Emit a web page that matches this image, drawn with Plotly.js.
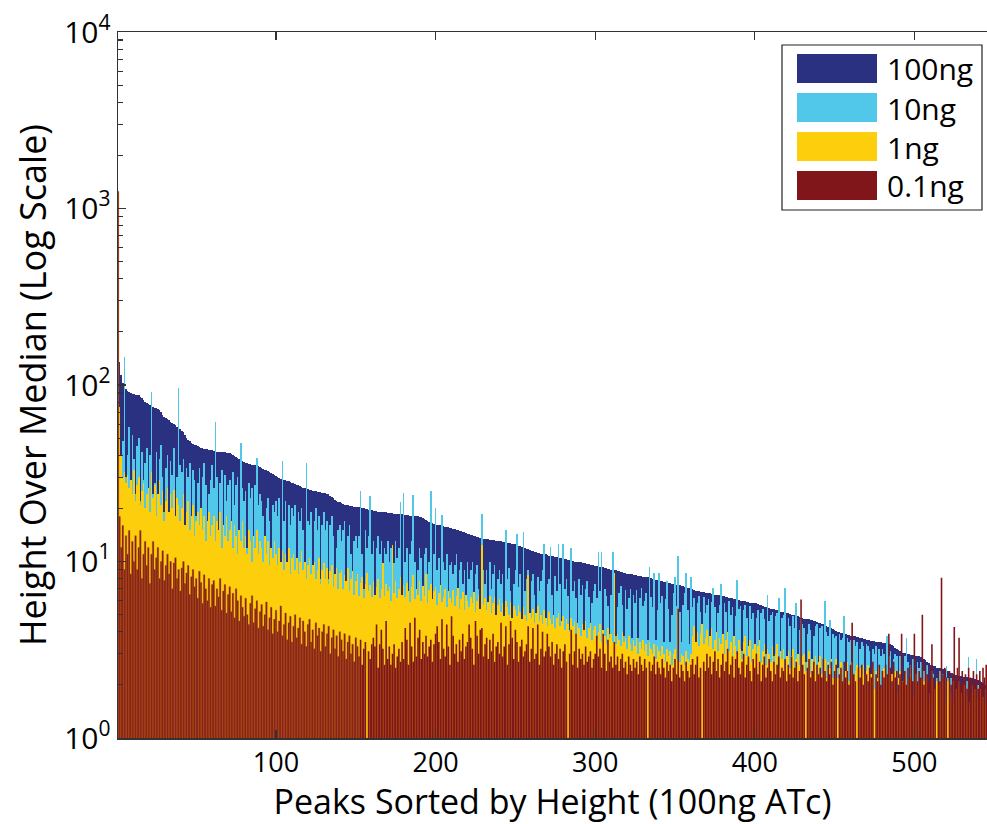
<!DOCTYPE html>
<html>
<head>
<meta charset="utf-8">
<script src="https://cdn.plot.ly/plotly-3.0.1.min.js"></script>
<style>html,body{margin:0;padding:0;background:#fff;overflow:hidden}#chart{width:987px;height:824px}</style>
</head>
<body>
<div id="chart"></div>
<script>
// Series names (legend order)
const seriesNames = ["100ng", "10ng", "1ng", "0.1ng"];
// X tick values
const xTickVals = [100, 200, 300, 400, 500];
// Y tick values and labels (log scale)
const yTickVals = [1, 10, 100, 1000, 10000];
const yTickText = ["10<sup>0</sup>", "10<sup>1</sup>", "10<sup>2</sup>", "10<sup>3</sup>", "10<sup>4</sup>"];

// Height over median, 100ng ATc (sorting key)
const h100ng = [
160,135,114,103,97,95,93,91,90,89,
88.5,88,88,87.5,86,84,82,80,79,78,
77,76,75,74.5,74,73,72,70,68,66,
65,64,63,62,61,60,59,58,57,56,
55,54,52,50,49,48,47,46.5,46,45.5,
45,44.5,44,43.8,43.6,43.4,43.2,43,42.8,42.6,
42.4,42.2,42,41.9,41.8,41.7,41.6,41.5,41.4,41.2,
41,40.5,40,39.5,39,38.5,38,37.5,37,36.6,
36.3,36,35.8,35.6,35.4,35.2,35,34.8,34.6,34.3,
34,33.6,33.2,32.8,32.4,32,31.6,31.2,30.8,30.4,
30.1,29.8,29.5,29.2,29,28.8,28.6,28.4,28.2,28,
27.8,27.5,27.2,27,26.7,26.4,26.2,26,25.8,25.6,
25.4,25.3,25.2,25.1,25,24.9,24.8,24.7,24.6,24.5,
24.4,24.2,24,23.6,23.2,22.8,22.4,22,21.8,21.6,
21.4,21.2,21,20.9,20.8,20.7,20.6,20.5,20.4,20.4,
20.3,20.3,20.2,20.1,20,19.9,19.8,19.7,19.6,19.5,
19.4,19.3,19.3,19.2,19.2,19.1,19.1,19,19,18.9,
18.9,18.8,18.8,18.7,18.7,18.6,18.6,18.5,18.5,18.4,
18.4,18.3,18.3,18.2,18.2,18.1,18.1,18,18,17.9,
17.8,17.6,17.4,17.2,17,16.8,16.6,16.5,16.4,16.3,
16.2,16.1,16,15.9,15.8,15.7,15.6,15.6,15.5,15.4,
15.3,15.2,15.1,15,14.9,14.8,14.7,14.6,14.5,14.4,
14.3,14.2,14.1,14,13.9,13.8,13.7,13.6,13.6,13.5,
13.5,13.4,13.4,13.3,13.3,13.2,13.2,13.1,13.1,13,
13,12.9,12.9,12.8,12.8,12.7,12.7,12.6,12.6,12.5,
12.4,12.3,12.2,12.1,12,11.9,11.8,11.7,11.6,11.5,
11.4,11.3,11.3,11.2,11.2,11.1,11.1,11,11,10.9,
10.8,10.8,10.7,10.7,10.6,10.6,10.5,10.5,10.4,10.4,
10.3,10.3,10.2,10.2,10.1,10.1,10,10,9.95,9.9,
9.9,9.85,9.8,9.75,9.7,9.65,9.6,9.55,9.5,9.45,
9.4,9.35,9.3,9.3,9.25,9.2,9.15,9.1,9.05,9.0,
9.0,8.95,8.9,8.85,8.8,8.75,8.7,8.65,8.6,8.55,
8.5,8.5,8.45,8.4,8.4,8.35,8.3,8.3,8.25,8.2,
8.2,8.2,8.15,8.1,8.05,8.0,7.95,7.9,7.85,7.8,
7.8,7.75,7.7,7.65,7.6,7.6,7.55,7.5,7.5,7.45,
7.4,7.4,7.35,7.3,7.25,7.2,7.15,7.1,7.05,7.0,
6.95,6.9,6.85,6.8,6.8,6.75,6.7,6.7,6.65,6.6,
6.6,6.6,6.55,6.55,6.5,6.5,6.45,6.45,6.4,6.4,
6.35,6.3,6.3,6.25,6.2,6.2,6.15,6.1,6.1,6.05,
6.0,6.0,5.95,5.95,5.9,5.9,5.85,5.85,5.8,5.8,
5.8,5.75,5.7,5.65,5.6,5.55,5.5,5.5,5.45,5.4,
5.4,5.35,5.3,5.3,5.25,5.2,5.2,5.15,5.1,5.1,
5.1,5.05,5.0,5.0,4.95,4.9,4.9,4.85,4.8,4.8,
4.75,4.75,4.7,4.7,4.65,4.65,4.6,4.6,4.55,4.5,
4.5,4.45,4.4,4.35,4.3,4.25,4.2,4.2,4.15,4.1,
4.05,4.0,4.0,3.95,3.95,3.9,3.9,3.85,3.85,3.8,
3.8,3.8,3.8,3.75,3.75,3.7,3.7,3.65,3.65,3.6,
3.6,3.6,3.55,3.55,3.55,3.5,3.5,3.5,3.5,3.45,
3.45,3.45,3.45,3.4,3.4,3.35,3.3,3.25,3.2,3.15,
3.1,3.1,3.05,3.05,3.0,3.0,3.0,2.95,2.95,2.95,
2.9,2.9,2.9,2.88,2.85,2.8,2.75,2.7,2.65,2.6,
2.6,2.55,2.55,2.5,2.5,2.5,2.45,2.45,2.45,2.43,
2.4,2.38,2.35,2.33,2.3,2.28,2.27,2.26,2.25,2.24,
2.23,2.22,2.21,2.2,2.2,2.19,2.18,2.17,2.15,2.13,
2.1,2.08,2.05,2.02,2.0
];

// Height over median, 10ng ATc
const h10ng = [
150,60,33,48,145,30,40,58,26,52,
38,24,45,50,22,42,29,36,44,21,
40,91,24,28,42,20,38,46,30,19,
34,40,18,37,31,44,17,30,96,35,
32,38,16,34,30,36,15,33,29,18,
28,34,15,30,36,27,14,24,29,35,
26,62,30,14,28,33,13,31,22,27,
29,13,32,21,27,30,12,47,26,22,
25,12,28,23,26,11,27,38.5,21,24,
22,18,11,20,23,17,10.5,21,19,22,
18,23,10,37,17,22,9.5,21,16,20,
18,21,9,19,17,20,15,9,36,17,
16,19,8.5,17,20,15,18,8,16,19,
15,17,8,16,18,14,7.5,12,15,16,
13,15,17,7.5,14,16,11,7,13,14,
12,14,25,11,7,15,12,14,23.5,11,
13,6.5,12,14,11,13,6.5,12,11,13,
10,12,6.2,9.8,13,10.5,12,21.7,6,24.5,
10,12,6,11,13,23.8,10,6,9,12,
10.5,5.8,11,12,8.5,10,25,5.6,11,20,
9,10.5,5.5,18.3,10,9,11,5.4,9.5,10,
8.5,9.5,11,5.2,9,10,7.5,9,5.2,10,
8,9,10,5,8.5,9.5,7,5,18.6,9,
7.5,9,5,10,7,8.5,9.5,4.8,8,9,
7.5,8.5,4.7,15,8,9.2,6.8,4.6,7.5,9,
14.3,7.2,8.5,4.5,14.7,6.8,8,9,4.4,7.8,
8.5,6.5,4.4,8.2,6.8,7.8,9,12.6,4.3,7.5,
8,12.1,6.5,4.3,8.3,6.8,12.6,7.5,4.2,12.6,
7,8,6.4,4.1,11.9,6.8,7.8,6.2,4.1,8,
6.5,7.4,4,7,7.8,6.3,4,5.8,6.8,7.5,
6.2,11.3,6.8,11.3,3.9,7,6.4,5.6,3.9,6.5,
11.3,6,3.8,5.5,6.6,7.3,5.7,3.8,6.9,5.4,
6.2,7,3.7,6.5,5.8,6.9,3.7,6.2,7.1,5.6,
6,6.6,3.6,9.3,6.3,5.5,8.6,3.6,5.3,8.6,
5.8,6.4,3.5,6.1,7.8,5.4,3.5,5,6.6,8.2,
5.6,10.7,5.2,3.5,5.7,6.6,8.6,5.3,3.4,8.2,
5.5,6.2,3.4,5.8,6.4,5.2,3.3,6.3,5.1,5.7,
6.1,3.3,5.9,7.1,5.5,3.3,5.1,5.7,7.5,3.2,
5.8,5.2,3.2,6,5,5.5,3.2,4.9,7.9,5.4,
5.6,3.1,5.3,5.7,4.8,3.1,5.6,4.7,5.1,3.1,
4.8,5.3,3,5.1,5.4,4.7,3,6.5,4.6,5,
5.2,2.9,4.9,5.1,6.2,2.9,4.8,5,7.1,2.9,
4.8,4.3,2.8,4.9,4.2,5.8,2.8,4.1,4.7,4.4,
4.2,2.7,3.9,4.4,4.1,2.7,3.8,4.3,4.4,2.6,
4.2,4.3,2.6,6,4,3.8,4.65,2.5,3.9,3.7,
3.8,2.5,3.9,3.6,3.7,4.9,2.4,3.7,3.5,3.6,
2.4,3.6,3.3,3.5,2.3,3.2,3.5,3.3,2.3,3.4,
3.3,3.1,2.2,3.2,3,3.3,2.2,3.2,2.9,3.2,
3,2.1,3.8,2.9,3.1,2.1,2.8,3,2.9,2,
2.9,2.8,2,2.9,3.7,2.7,2,2.6,2.8,2.7,
1.9,2.7,2.5,2.7,1.9,2.4,2.5,2.6,1.8,2.4,
2.4,2.3,1.8,2.2,2.3,2.4,1.7,2.3,2.2,2.56,
2.2,1.7,2.2,2,2.1,1.7,1.9,2.1,2,1.6,
1.9,2,2.1,2.87,1.6,2,2.1,1.8,2.8,2,
1.9,2,1.6,1.9,1.9
];

// Height over median, 1ng ATc
const h1ng = [
1250,75,40,30,32,28,31,26,29,24,
33,22,27,30,21,25,28,20,24,26,
19,32,23,27,18,24,29,21,25,17,
22,26,19,24,20,25.4,18,23,21,17,
20,24,16,19,22,15,18,21,14,17,
19,16,20,15,18,13,17,19,14,16,
18,13,17,15,19,12,16,14,18,13,
15,17,12,16,14,11,15,13,17,12,
14,11,15,13,10,14,12,15,11,13,
12,10,14,11,13,9.5,12,10.5,13,11,
9.5,12,10,11.5,9,11,10,12,8.5,10.5,
11,9,10.5,8.5,10,11.5,9,10,8,9.5,
10.5,8.5,9.5,10,8,9,10.5,7.5,9,9.8,
8,9.2,7.5,8.8,9.6,7.2,8.5,9.2,7,8.6,
9,7,8.4,7.8,9.2,6.8,8,8.8,6.5,7.8,
8.5,6.4,7.6,8.2,6.2,7.5,8.6,6.8,7.4,6.3,
7.8,6.5,7.2,8,6.2,7,9.8,6.4,7.5,6.8,
7.2,6,12.4,6.6,7.8,6.2,7,8.2,6.5,7.4,
6.3,7.6,6.8,5.9,7.2,8.4,6.1,7,6.5,7.8,
6,7.3,6.4,8.5,5.8,6.9,7.5,6.1,6.8,7.2,
5.7,6.6,7.4,5.9,6.3,7,5.5,6.8,6.2,5.8,
6.9,5.6,6.4,7.1,5.4,6.1,6.7,5.3,6.5,6,
5.5,6.3,5.8,6.7,5.2,6,6.5,5.4,12.4,5.7,
6.2,5.3,5.9,6.4,5.1,5.8,6.3,5,5.7,6.1,
5.2,5.8,4.9,6,5.5,5,5.9,4.8,5.6,5.3,
4.9,5.7,5.2,4.7,5.5,5,4.6,8.4,5.1,4.8,
5.4,4.5,5.1,5.6,4.6,5,4.4,5.3,4.8,4.3,
5.2,4.7,4.4,5,4.2,4.8,5.1,4.3,4.6,4.9,
4.1,4.7,4.4,4,4.8,4.3,4.6,3.9,4.5,4.2,
3.8,4.4,4.1,4.6,3.7,4.2,4.5,3.6,4.1,4.3,
3.6,4,4.4,3.5,4.1,3.8,3.4,4.2,3.7,3.9,
3.5,8.6,3.4,3.9,3.6,3.3,4,3.5,3.7,3.2,
3.8,3.4,3.1,3.6,3.3,3.7,3,3.5,3.2,3.6,
3.1,3.4,2.9,3.5,3.2,3,3.4,2.8,3.3,3.1,
2.9,3.3,3,2.7,3.2,2.9,3.1,2.6,3,3.2,
2.8,5.4,2.7,3,2.9,2.6,3.1,2.8,2.7,3,
3.8,4.3,3.5,4,3.3,3.9,4.4,3.4,3.7,4.1,
3.3,3.8,4.2,3.2,3.6,4,3.1,3.7,3.4,3.9,
3,3.6,4,3.1,3.5,2.9,3.8,3.3,3,3.6,
3.2,2.8,3.5,3.8,2.9,3.3,3.6,2.7,3.2,3.4,
2.8,3.3,3.6,2.7,3.1,3.4,2.6,3.2,3,2.7,
3.3,2.6,3,3.4,2.5,3.1,2.8,3.2,2.5,2.9,
3.1,2.5,2.9,3.2,2.4,2.8,3,2.6,2.4,2.9,
3,2.4,2.7,3.1,2.3,2.8,2.6,2.9,2.3,2.7,
2.9,2.3,2.6,2.8,2.2,2.7,2.5,2.8,2.2,2.6,
2.8,2.2,2.5,2.7,2.1,2.6,2.4,2.7,2.1,2.5,
2.7,2.1,2.4,2.6,2,2.5,2.3,2.6,2,2.4,
2.6,2,2.3,2.5,1.9,2.4,2.2,2.5,1.9,2.3,
2.5,1.9,2.2,2.4,1.8,2.3,2.1,2.4,1.8,2.2,
2.4,1.8,2.1,2.3,1.8,2.2,2,2.3,1.7,2.1,
2.3,1.7,2,2.2,1.7,2.1,1.9,2.2,1.7,2,
2.2,1.7,1.9,2.1,1.6,2,1.8,2.1,1.6,1.9,
2.1,1.6,1.8,2,1.6,1.9,1.7,2,1.5,1.8,
2,1.5,1.7,1.9,1.5,1.8,1.6,1.9,1.5,1.7,
1.9,1.5,1.7,1.8,1.6
];

// Height over median, 0.1ng ATc
const h01ng = [
1250,18,12,16,9,14,11,15,8.5,13,
10,14,9,12,15,8,11,13,9.5,12,
7.5,11,13,9,10.5,12,8,10,11.5,7.8,
9.5,11,8.5,10,7,9.8,10.5,8,9,6.8,
9.2,10,7.5,8.6,9.5,6.5,8.2,9,7.2,8,
6.2,8.8,7.6,5.8,8.4,7,6,8,5.5,7.4,
7.8,5.6,7,6.3,8,5.3,6.8,7.4,5.1,6.5,
7.2,5.2,6.6,4.8,7,6,4.6,6.4,5.5,4.9,
6.2,5,4.4,5.8,6.4,4.5,5.4,6,4.2,5.2,
5.7,4.3,5,5.9,4.1,4.8,5.5,3.9,4.7,5.3,
4,4.6,5.6,3.8,4.4,5.1,3.6,4.5,4.9,3.5,
4.3,5,3.7,4.2,4.8,3.4,4.6,4,3.3,4.4,
4.7,3.5,4.1,3.2,4.5,3.8,4.2,3.1,4,4.4,
3.3,3.9,4.3,3,3.7,4.1,3.2,3.8,2.9,4,
3.6,3.1,3.9,2.8,3.5,3.8,3,3.4,2.7,3.7,
3.3,2.9,3.6,2.6,3.2,3.5,0.9,3.1,2.8,3.4,
3.7,3.3,4.4,2.5,3.4,4.1,3.2,2.6,4.6,2.8,
3.3,2.6,3,3.4,2.5,2.9,3.2,2.7,3.5,2.8,
4.2,3.6,2.6,4.5,3.3,2.7,4.8,2.9,3.7,4.1,
2.8,3.5,3,3.8,2.9,3.3,3.6,2.7,3.4,3.9,
4.3,3.5,2.8,4.7,3.2,2.9,4.4,3.3,2.6,4.9,
3.8,3,3.4,2.7,3.6,3.1,3.9,2.8,3.3,3.5,
4.4,3.7,3.2,2.6,4.6,3.8,3,4.1,4.2,2.9,
3.4,3.7,2.8,3.6,3.1,3.9,2.7,3.3,3.5,3,
4.5,2.9,3.3,4.3,2.6,3.4,4.6,3.7,2.8,4.1,
3.5,2.7,3.3,3.6,2.9,3.1,3.4,4.3,2.7,3.2,
4.2,2.8,3,4.4,2.6,3.2,4.0,2.9,3.1,3.9,
3.3,2.9,3.5,2.6,3,3.4,2.8,3.2,2.5,3.1,
3.4,2.7,0.95,3,4.1,2.6,3.1,3.9,2.5,3.2,
2.8,3,2.6,3.3,2.7,2.9,3.1,2.5,2.8,3,
3.8,2.9,3.2,2.5,3.9,3,2.4,3.6,2.7,2.9,
2.5,3.5,2.6,2.9,2.4,2.8,3,2.5,2.7,2.3,
2.9,2.6,2.4,2.8,2.5,2.7,2.3,2.9,2.6,2.4,
2.8,2.5,0.9,2.7,2.4,2.6,2.9,2.3,2.7,2.5,
2.3,2.8,2.5,2.2,2.7,2.4,2.6,2.1,2.5,2.8,
2.3,5.4,2.2,2.6,2.4,2.1,2.7,2.4,2.2,2.6,
2.8,2.3,2.6,2.9,2.2,2.5,0.9,2.7,2.4,3,
2.5,2.9,2.3,2.7,3.1,2.4,2.8,2.2,2.6,3,
2.4,2.7,3.2,2.3,2.6,2.9,2.2,2.8,3.1,2.5,
2.3,2.7,3,2.2,2.6,2.9,2.4,2.1,2.8,2.5,
3,2.3,2.7,2.1,2.6,2.9,2.2,2.5,2.8,2.4,
2.1,2.7,2.3,2.6,2.9,2.2,2.5,2.4,2.8,2.1,
2.6,2.3,2.9,2.2,2.5,2.7,2.1,2.4,6.1,2.6,
2.3,0.9,2.5,2.8,2.2,2.4,2.7,2.1,2.6,2.3,
2.5,2.2,2.8,2.4,2.1,2.6,2.3,2.7,2,2.4,
2.6,0.95,2.3,2.5,2.1,2.7,2.2,2.4,2,2.6,
4.5,2.3,2.1,1.0,2.5,2.2,2.6,2,2.4,2.3,
2.1,2.5,2.2,2.7,0.95,2.3,2.1,2.6,2,2.4,
2.2,2.6,2.3,3.9,2.5,2.1,2.7,2.2,2.4,2,
2.3,3.9,2.1,2.4,2,2.5,2.2,2.6,2.1,3.9,
2.5,2.1,2.4,2.2,5,2,2.6,2.3,2.1,2.5,
3.4,2.2,2,0.9,2.4,2.1,8.1,2.3,2.5,2.2,
0.95,2.4,2,2.3,4.25,2.1,2.5,3.7,2,2.4,
2.1,2.3,1.9,2.5,2.2,2,2.4,2.1,2.3,1.9,
2.4,2,2.5,2.2,2.6
];

const N = h100ng.length;
[h10ng, h1ng, h01ng].forEach(function (a, i) {
  if (a.length !== N) throw new Error("length mismatch in series " + i + ": " + a.length + " vs " + N);
});
const peakRank = [];
for (let i = 1; i <= N; i++) peakRank.push(i);

const colors = ["#2b3181", "#51c8ea", "#fcce0b", "#80161a"];
// first part of the 0.1ng bars shows lighter edges in the original
const redFill = peakRank.map(function (r) { return r <= 152 ? "#86201a" : colors[3]; });
const redEdge = peakRank.map(function (r) { return r <= 152 ? "#a8461c" : colors[3]; });
const redEdgeW = peakRank.map(function (r) { return r <= 152 ? 0.3 : 0; });

const seriesData = [h100ng, h10ng, h1ng, h01ng];
const traces = seriesData.map(function (ys, i) {
  return {
    type: "bar",
    name: seriesNames[i],
    x: peakRank,
    y: ys,
    marker: i === 3
      ? { color: redFill, line: { width: redEdgeW, color: redEdge } }
      : { color: colors[i], line: { width: 0 } },
    showlegend: false,
    hoverinfo: "x+y+name"
  };
});

const minorVals = [];
for (let k = 0; k < 4; k++) for (let m = 2; m <= 9; m++) minorVals.push(m * Math.pow(10, k));

const W = 987, H = 824;
const mL = 118, mR = 0, mT = 32, mB = 86;
const pw = W - mL - mR, ph = H - mT - mB;
function px(xp) { return (xp - mL) / pw; }
function py(yp) { return (H - mB - yp) / ph; }

const shapes = [];
const annotations = [];
// custom legend box
shapes.push({ type: "rect", xref: "paper", yref: "paper", x0: px(782), x1: px(982), y0: py(210), y1: py(45),
  line: { color: "#222", width: 1.2 }, fillcolor: "#ffffff", layer: "above" });
const swY = [54, 93, 132, 171];
seriesNames.forEach(function (nm, i) {
  shapes.push({ type: "rect", xref: "paper", yref: "paper", x0: px(797), x1: px(877), y0: py(swY[i] + 29), y1: py(swY[i]),
    line: { width: 0 }, fillcolor: colors[i], layer: "above" });
  annotations.push({ xref: "paper", yref: "paper", x: px(885), y: py(swY[i] + 15), xanchor: "left", yanchor: "middle",
    text: nm, showarrow: false, font: { family: "Open Sans, sans-serif", size: 30, color: "#000" } });
});

const layout = {
  width: W, height: H,
  margin: { l: mL, r: mR, t: mT, b: mB, pad: 0 },
  paper_bgcolor: "#fff", plot_bgcolor: "#fff",
  barmode: "overlay", bargap: 0,
  showlegend: false,
  font: { family: "Open Sans, sans-serif", color: "#000" },
  xaxis: {
    range: [1, 545.5],
    tickmode: "array", tickvals: xTickVals,
    ticks: "inside", ticklen: 8, tickwidth: 1.2, tickcolor: "#333",
    showline: true, linecolor: "#333", linewidth: 1.5, mirror: "ticks",
    showgrid: false, zeroline: false,
    tickfont: { size: 27, color: "#000" },
    title: { text: "Peaks Sorted by Height (100ng ATc)", font: { size: 34, color: "#000" }, standoff: 2 }
  },
  yaxis: {
    type: "log", range: [0, 4],
    tickmode: "array", tickvals: yTickVals, ticktext: yTickText,
    ticks: "inside", ticklen: 8, tickwidth: 1.2, tickcolor: "#333",
    minor: { tickmode: "array", tickvals: minorVals, ticks: "inside", ticklen: 5, tickcolor: "#333", showgrid: false },
    showline: true, linecolor: "#333", linewidth: 1.5, mirror: false,
    showgrid: false, zeroline: false,
    tickfont: { size: 30, color: "#000" },
    title: { text: "Height Over Median (Log Scale)", font: { size: 36, color: "#000" }, standoff: 6 }
  },
  shapes: shapes,
  annotations: annotations
};

Plotly.newPlot("chart", traces, layout, { displayModeBar: false, staticPlot: true });
</script>
</body>
</html>
